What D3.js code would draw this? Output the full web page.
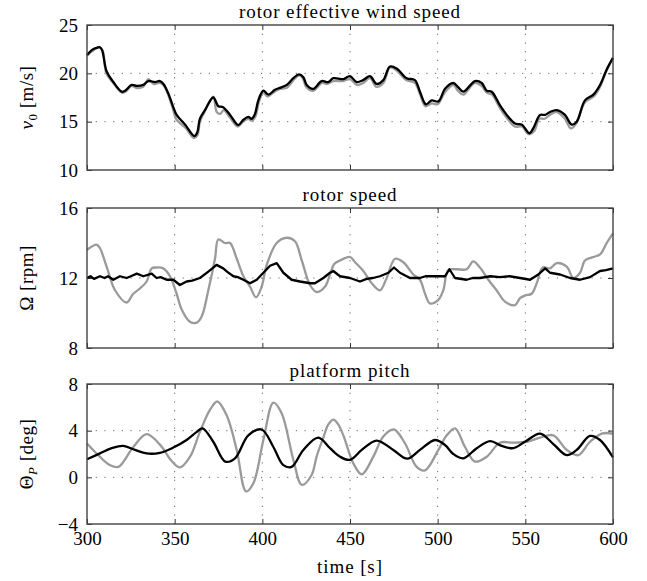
<!DOCTYPE html>
<html>
<head>
<meta charset="utf-8">
<script src="https://cdn.jsdelivr.net/npm/d3@7"></script>
<style>
  body { margin: 0; background: #fff; }
  text { font-family: "Liberation Serif", serif; fill: #000; }
</style>
</head>
<body>
<div id="chart"></div>
<script>
// time axis
const timeDomain = [300, 600];
const timeTicks = [300, 350, 400, 450, 500, 550, 600];

// panel 1: rotor effective wind speed [m/s]
const windTicks = [10, 15, 20, 25];
const windGrid = [15, 20];
const windGray = [[300,21.8],[303,22.3],[307,22.7],[309,22.3],[311,20.0],[315,19.0],[320,18.0],[322,18.1],[325.5,18.7],[328,18.5],[332,18.6],[335,19.4],[338,18.9],[341.6,19.0],[344,18.7],[346.5,17.7],[349.2,16.2],[351,15.2],[356,14.4],[361,13.3],[363,13.6],[364.4,15.0],[367,16.0],[372,17.6],[374,16.0],[376,15.8],[378,16.2],[381.6,15.4],[386,14.5],[389,15.0],[392,15.3],[394,15.1],[396,15.5],[398,17.0],[400.6,18.0],[403,17.6],[407,18.1],[410,18.4],[414,18.5],[417.7,19.3],[421,19.8],[423,19.5],[425,18.6],[429,18.2],[434,19.0],[437,18.9],[440.5,19.2],[446,19.2],[450,19.4],[454,18.8],[457.5,19.0],[461.4,19.5],[465,18.6],[469,19.0],[472.8,20.6],[476.6,20.3],[482,19.3],[487,19.0],[490,17.8],[493,16.6],[496.6,16.9],[500,16.8],[504,18.0],[509,18.8],[511.5,18.2],[514.6,17.8],[521,19.0],[525,18.7],[528,18.0],[531,17.8],[535.5,16.4],[539.4,15.4],[544,14.5],[548,14.5],[552,13.7],[555,14.0],[558,15.3],[561,15.3],[564,15.7],[568,16.0],[572.6,15.3],[576,14.3],[579,14.8],[584,17.0],[589,17.6],[592.6,18.6],[596.4,20.3],[600,21.6]];
const windBlack = [[300,21.9],[302.7,22.4],[305,22.6],[307.4,22.7],[308.6,22.4],[311.2,20.2],[315,19.1],[319.8,18.1],[321.7,18.2],[325.5,18.8],[328.4,18.7],[332.1,18.8],[335,19.2],[338.8,19.1],[341.6,19.2],[343.6,18.9],[346.4,17.9],[349.2,16.5],[351.1,15.7],[355.9,14.7],[361.2,13.5],[362.9,13.9],[364.4,15.3],[367.3,16.2],[372,17.5],[374.9,16.6],[377.6,16.5],[381.6,15.7],[386.3,14.65],[389.2,15.2],[392,15.5],[393.9,15.3],[395.8,15.8],[397.7,17.2],[400.6,18.2],[403.4,17.8],[407.2,18.3],[410,18.5],[413.9,18.8],[417.7,19.5],[420.9,19.9],[423.4,19.6],[425.3,18.8],[429.1,18.4],[433.8,19.2],[437.6,19.1],[440.5,19.5],[446.2,19.4],[450,19.7],[453.8,19.1],[457.5,19.3],[461.4,19.7],[465.2,18.9],[469,19.3],[472.8,20.7],[476.6,20.5],[482.3,19.5],[487,19.3],[489.9,18.1],[493.3,16.8],[496.6,17.2],[500.4,17.1],[504.2,18.4],[508.9,19.0],[511.5,18.6],[514.6,18.1],[521.3,19.2],[525.1,19.0],[528,18.2],[530.8,18.1],[535.5,16.7],[539.4,15.7],[544.1,14.8],[547.9,14.7],[552.3,13.8],[554.5,14.3],[558.4,15.7],[561.3,15.7],[564.1,16.0],[567.9,16.2],[572.6,15.7],[576.4,14.7],[579.3,15.0],[584,17.2],[588.8,17.8],[592.6,18.8],[596.4,20.4],[600,21.6]];

// panel 2: rotor speed [rpm]
const rotorTicks = [8, 12, 16];
const rotorGrid = [12];
const rotorGray = [[300,13.6],[305.5,13.9],[307.4,13.7],[311.2,12.65],[316,11.3],[322.6,10.6],[326.4,11.1],[330.2,11.4],[334,11.8],[336.9,12.55],[339.7,12.6],[343.5,12.55],[347.3,12.1],[351.1,11.1],[354,10.2],[358.7,9.5],[362.6,9.45],[365.4,9.8],[369.2,11.3],[373,13.1],[374.9,14.2],[378.7,14.0],[381.6,14.0],[385.4,13.1],[389.2,12.1],[393,11.5],[396.4,10.9],[399.6,11.5],[402.5,12.75],[408.2,14.0],[413.9,14.3],[418.6,14.1],[422.5,13.0],[427.2,11.6],[431,11.2],[435.7,11.5],[438.6,12.2],[441,12.8],[444.3,13.0],[450,13.2],[452.9,12.9],[457.6,12.4],[462.4,11.7],[467.1,11.3],[470.9,12.0],[475.7,13.1],[480.4,12.9],[486.1,12.2],[489.9,11.9],[492.8,11.1],[495.6,10.55],[500.4,10.75],[503.2,11.3],[506.1,12.45],[510.8,12.5],[516.5,12.5],[520.3,12.95],[524.1,12.6],[528.9,11.9],[533.6,11.3],[538.4,10.65],[544.1,10.45],[547,10.85],[549.8,11.0],[553.6,11.1],[556.5,11.7],[559.9,12.6],[564.1,12.55],[567.9,12.85],[573.6,12.65],[577.4,12.0],[581.2,12.3],[584,13.0],[588.8,13.2],[592.6,13.35],[596.4,14.0],[600,14.55]];
const rotorBlack = [[300,12.0],[302,12.1],[304,11.95],[307.4,12.1],[310,12.0],[312,12.1],[315,11.9],[318.8,12.1],[322.6,12.0],[325,12.1],[328.4,12.25],[332.1,12.1],[336.9,12.25],[339.7,12.0],[342,12.05],[345.4,11.9],[349.2,11.9],[353,11.6],[356.8,11.8],[360,11.85],[364.4,12.0],[369.2,12.36],[373.9,12.75],[377.7,12.55],[380,12.35],[383.5,12.1],[386,12.05],[389.2,11.9],[393,11.7],[396.8,11.9],[400.6,12.3],[404.4,12.7],[408.2,12.85],[412,12.3],[416.7,11.9],[421.5,11.8],[427.2,11.7],[430,11.7],[434.8,12.0],[438.6,12.3],[440.5,12.4],[444.3,12.1],[450,12.0],[455.7,11.8],[459.5,11.95],[463,12.0],[467.1,12.1],[471.9,12.3],[475.1,12.6],[478.5,12.3],[484.2,12.0],[489.9,12.0],[493,12.1],[497.5,12.1],[504.2,12.1],[506.7,12.5],[509.9,12.0],[516.5,11.9],[520,12.0],[524.1,12.0],[530,12.1],[535.5,12.05],[541,12.1],[547,12.0],[552.7,11.9],[557.4,12.2],[561.3,12.55],[564.1,12.3],[569.8,12.2],[575.5,12.0],[581.2,11.9],[586.9,12.05],[592.6,12.4],[596,12.45],[600,12.55]];

// panel 3: platform pitch [deg]
const pitchTicks = [-4, 0, 4, 8];
const pitchGrid = [0, 4];
const pitchGray = [[300,2.9],[307.4,1.75],[313,1.05],[317.9,0.9],[326.4,2.6],[334,3.7],[341.6,2.8],[348.3,1.4],[353,0.85],[358.7,1.75],[364.4,3.9],[370.2,5.8],[374.3,6.5],[379.7,5.3],[385.4,2.35],[390.7,-1.2],[394.9,-0.5],[400.6,3.2],[406.3,6.4],[411,5.5],[417.7,1.5],[422.5,-0.65],[428.1,0.2],[431,1.8],[434.8,3.4],[437.5,4.5],[440.5,4.95],[443,4.6],[446.2,3.6],[451.9,1.2],[456.7,0.25],[463.3,1.77],[469,3.5],[475.1,4.1],[481.4,2.9],[488,0.9],[492.8,0.6],[500.4,2.35],[505.2,3.6],[509.9,4.2],[515.6,2.6],[521.3,1.35],[528,1.77],[535.5,2.97],[543.1,2.97],[550.7,3.05],[558.4,3.4],[566,3.6],[573.6,2.35],[580.2,1.9],[586.9,3.05],[593.6,3.75],[600,3.75]];
const pitchBlack = [[300,1.55],[307.4,2.05],[314.1,2.5],[320.7,2.7],[327.4,2.35],[334,2.05],[341.6,2.1],[349.2,2.55],[356.8,3.2],[362.6,3.9],[365.9,4.2],[372,3.05],[378.9,1.35],[384.4,1.63],[392,3.6],[399.6,4.1],[406.3,2.6],[412,1.05],[416.7,0.9],[423.4,2.35],[431.9,3.4],[438.6,2.5],[444.3,1.77],[450,1.5],[456.7,2.35],[465.2,3.15],[474.7,2.35],[482.7,1.6],[489.9,2.35],[498.5,3.2],[504.2,2.77],[508.9,2.0],[514.6,1.63],[522.3,2.5],[529.9,3.1],[536.5,2.7],[543.1,2.5],[549.8,3.05],[558.4,3.75],[566,2.85],[573.6,1.9],[579.3,2.35],[586.9,3.55],[592.6,3.2],[600,1.7]];

const left = 87, right = 613;
const width = 647, height = 581;
const smooth = d3.curveCatmullRom.alpha(0.5);

const panels = [
  { title: 'rotor effective wind speed', top: 25, bottom: 170, domain: [10, 25], ticks: windTicks, grid: windGrid, gray: windGray, black: windBlack, grayCurve: smooth, blackCurve: smooth, label: 'v' },
  { title: 'rotor speed', top: 208, bottom: 348, domain: [8, 16], ticks: rotorTicks, grid: rotorGrid, gray: rotorGray, black: rotorBlack, grayCurve: smooth, blackCurve: d3.curveLinear, label: 'omega' },
  { title: 'platform pitch', top: 384, bottom: 524, domain: [-4, 8], ticks: pitchTicks, grid: pitchGrid, gray: pitchGray, black: pitchBlack, grayCurve: smooth, blackCurve: smooth, label: 'theta' }
];

const svg = d3.select('#chart')
  .append('svg')
  .attr('width', width)
  .attr('height', height);

const x = d3.scaleLinear().domain(timeDomain).range([left, right]);

const styleAxis = (g, showLabels) => {
  g.select('.domain').remove();
  g.selectAll('.tick line').attr('stroke', '#333').attr('stroke-width', 1);
  g.selectAll('text')
    .attr('font-family', '"Liberation Serif", serif')
    .attr('font-size', 19)
    .attr('fill', '#000');
  if (!showLabels) g.selectAll('text').remove();
};

panels.forEach((p, i) => {
  const y = d3.scaleLinear().domain(p.domain).range([p.bottom, p.top]);
  const g = svg.append('g');
  const isLast = i === panels.length - 1;

  // dotted grid
  g.selectAll('.vgrid')
    .data(timeTicks.slice(1, -1))
    .join('line')
    .attr('x1', d => x(d)).attr('x2', d => x(d))
    .attr('y1', p.top).attr('y2', p.bottom)
    .attr('stroke', '#666').attr('stroke-width', 1)
    .attr('stroke-dasharray', '1.2,7.5');
  g.selectAll('.hgrid')
    .data(p.grid)
    .join('line')
    .attr('x1', left).attr('x2', right)
    .attr('y1', d => y(d)).attr('y2', d => y(d))
    .attr('stroke', '#666').attr('stroke-width', 1)
    .attr('stroke-dasharray', '1.2,7.5');

  // axes with inward ticks
  g.append('g')
    .attr('transform', `translate(0,${p.bottom})`)
    .call(d3.axisBottom(x).tickValues(timeTicks).tickSize(-5).tickPadding(8))
    .call(a => styleAxis(a, isLast));
  g.append('g')
    .attr('transform', `translate(0,${p.top})`)
    .call(d3.axisTop(x).tickValues(timeTicks).tickSize(-5))
    .call(a => styleAxis(a, false));
  g.append('g')
    .attr('transform', `translate(${left},0)`)
    .call(d3.axisLeft(y).tickValues(p.ticks).tickSize(-5).tickPadding(9).tickFormat(d => d < 0 ? '\u2212' + Math.abs(d) : d))
    .call(a => styleAxis(a, true));
  g.append('g')
    .attr('transform', `translate(${right},0)`)
    .call(d3.axisRight(y).tickValues(p.ticks).tickSize(-5))
    .call(a => styleAxis(a, false));

  const line = curve => d3.line()
    .x(d => x(d[0]))
    .y(d => y(d[1]))
    .curve(curve);

  g.append('path')
    .datum(p.gray)
    .attr('d', line(p.grayCurve))
    .attr('fill', 'none')
    .attr('stroke', '#9a9a9a')
    .attr('stroke-width', 2.3)
    .attr('stroke-linejoin', 'round');
  g.append('path')
    .datum(p.black)
    .attr('d', line(p.blackCurve))
    .attr('fill', 'none')
    .attr('stroke', '#000')
    .attr('stroke-width', 2.3)
    .attr('stroke-linejoin', 'round');

  // frame
  g.append('rect')
    .attr('x', left).attr('y', p.top)
    .attr('width', right - left).attr('height', p.bottom - p.top)
    .attr('fill', 'none')
    .attr('stroke', '#444')
    .attr('stroke-width', 1.4);

  // title
  g.append('text')
    .attr('x', (left + right) / 2)
    .attr('y', p.top - 7)
    .attr('text-anchor', 'middle')
    .attr('font-size', 19)
    .attr('letter-spacing', 0.9)
    .text(p.title);

  // y label
  const cy = (p.top + p.bottom) / 2;
  const lab = g.append('text')
    .attr('transform', `translate(33,${cy}) rotate(-90)`)
    .attr('text-anchor', 'middle')
    .attr('font-size', 19)
    .attr('letter-spacing', 0.5);
  if (p.label === 'v') {
    lab.append('tspan').attr('font-style', 'italic').text('v');
    lab.append('tspan').attr('font-size', 13).attr('dy', 4).text('0');
    lab.append('tspan').attr('dy', -4).text(' [m/s]');
  } else if (p.label === 'omega') {
    lab.append('tspan').text('\u03A9 [rpm]');
  } else {
    lab.append('tspan').text('\u0398');
    lab.append('tspan').attr('font-style', 'italic').attr('font-size', 13).attr('dy', 4).text('P');
    lab.append('tspan').attr('dy', -4).text(' [deg]');
  }
});

// x label
svg.append('text')
  .attr('x', (left + right) / 2)
  .attr('y', 573)
  .attr('text-anchor', 'middle')
  .attr('font-size', 19)
  .attr('letter-spacing', 0.9)
  .text('time [s]');
</script>
</body>
</html>
